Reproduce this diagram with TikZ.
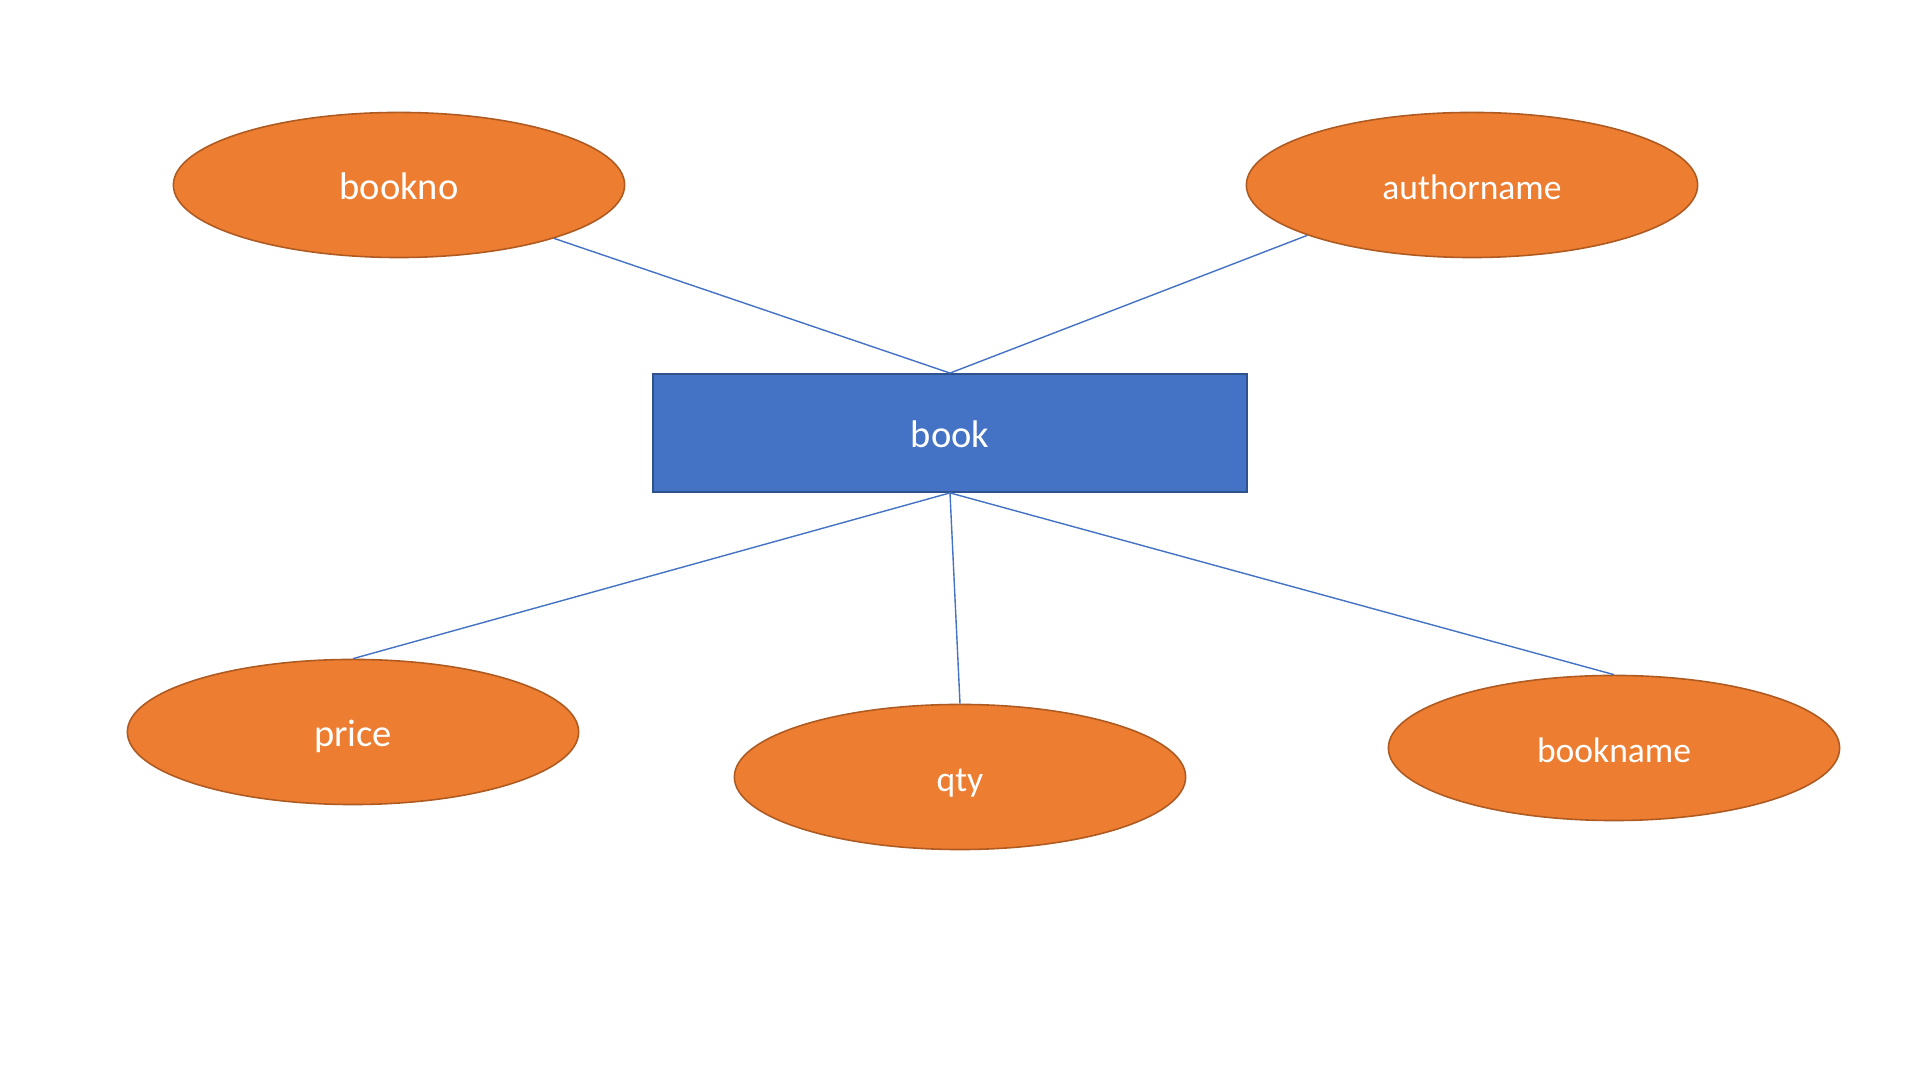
\documentclass[tikz,border=0pt]{standalone}
\usepackage{fontspec}
\setmainfont{Carlito}
\usetikzlibrary{shapes.geometric}
\definecolor{attrfill}{HTML}{ED7D31}
\definecolor{attrdraw}{HTML}{AE5A21}
\definecolor{entfill}{HTML}{4472C4}
\definecolor{entdraw}{HTML}{2F528F}
\definecolor{linkc}{HTML}{4472C4}
\tikzset{
  attr/.style={ellipse, fill=attrfill, draw=attrdraw, line width=0.45pt,
    minimum width=4.51cm, minimum height=1.45cm, inner sep=0pt, text=white,
    text height=0.81em, text depth=0pt},
  ent/.style={rectangle, fill=entfill, draw=entdraw, line width=0.5pt,
    minimum width=5.93cm, minimum height=1.18cm, inner sep=0pt, text=white,
    text height=0.81em, text depth=0pt},
  bigtxt/.style={font=\fontsize{10.95}{13}\selectfont},
  smalltxt/.style={font=\fontsize{10.1}{12}\selectfont},
  link/.style={draw=linkc, line width=0.4pt}
}
\begin{document}
\begin{tikzpicture}[x=0.01cm, y=-0.01cm]
\useasboundingbox (0,0) rectangle (1920,1080);
\node[ent, bigtxt] (book) at (950,433) {book};
\node[attr, bigtxt] (bookno) at (399,185) {bookno};
\node[attr, smalltxt] (authorname) at (1472,185) {authorname};
\node[attr, bigtxt] (price) at (353,732) {price};
\node[attr, smalltxt] (qty) at (960,777) {qty};
\node[attr, smalltxt] (bookname) at (1614,748) {bookname};
\draw[link] (bookno.341.7) -- (book.north);
\draw[link] (authorname.197.8) -- (book.north);
\draw[link] (book.south) -- (price.north);
\draw[link] (book.south) -- (qty.north);
\draw[link] (book.south) -- (bookname.north);
\end{tikzpicture}
\end{document}
